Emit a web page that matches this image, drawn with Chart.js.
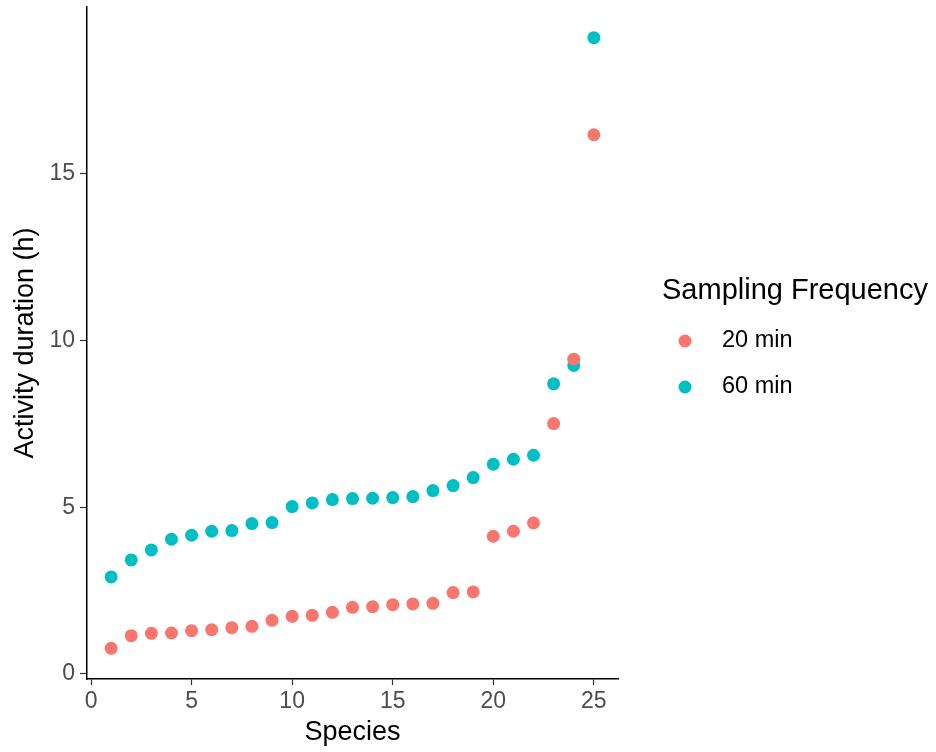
<!DOCTYPE html>
<html>
<head>
<meta charset="utf-8">
<script src="https://cdn.jsdelivr.net/npm/chart.js@4"></script>
<style>
  html, body { margin: 0; padding: 0; background: #fff; }
  #wrap { width: 936px; height: 752px; }
</style>
</head>
<body>
<div id="wrap"><canvas id="dotChart" width="936" height="752"></canvas></div>
<script>
// species rank on the x axis
const species = [1, 2, 3, 4, 5, 6, 7, 8, 9, 10, 11, 12, 13, 14, 15, 16, 17, 18, 19, 20, 21, 22, 23, 24, 25];

// activity duration (h) per sampling frequency
const min20 = [0.77, 1.15, 1.22, 1.23, 1.30, 1.33, 1.39, 1.43, 1.61, 1.73, 1.76, 1.85, 2.00, 2.02, 2.08, 2.10, 2.12, 2.44, 2.46, 4.13, 4.28, 4.53, 7.51, 9.44, 16.17];
const min60 = [2.91, 3.42, 3.72, 4.04, 4.16, 4.28, 4.30, 4.51, 4.54, 5.02, 5.13, 5.23, 5.26, 5.27, 5.29, 5.32, 5.50, 5.65, 5.89, 6.29, 6.44, 6.56, 8.70, 9.25, 19.08];

const seriesNames = ['20 min', '60 min'];
const seriesColors = ['#F8766D', '#00BFC4'];

const xTicks = [0, 5, 10, 15, 20, 25];
const yTicks = [0, 5, 10, 15];

const legendTitle = 'Sampling Frequency';

const FONT = '"Liberation Sans", Arial, sans-serif';

function toPoints(vals) {
  return species.map((s, i) => ({ x: s, y: vals[i] }));
}

// legend drawn to the right of the panel, ggplot style
const legendPlugin = {
  id: 'ggLegend',
  afterDraw(chart) {
    const ctx = chart.ctx;
    ctx.save();
    ctx.fillStyle = '#000';
    ctx.textBaseline = 'middle';
    ctx.textAlign = 'left';
    ctx.font = '29px ' + FONT;
    ctx.fillText(legendTitle, 662, 291);
    ctx.font = '23.5px ' + FONT;
    chart.data.datasets.forEach((ds, i) => {
      const y = 341 + i * 46;
      ctx.beginPath();
      ctx.arc(685, y, 6.5, 0, Math.PI * 2);
      ctx.fillStyle = ds.backgroundColor;
      ctx.fill();
      ctx.fillStyle = '#000';
      ctx.fillText(ds.label, 722, y);
    });
    ctx.restore();
  }
};

const ctx = document.getElementById('dotChart').getContext('2d');

const chart = new Chart(ctx, {
  type: 'scatter',
  data: {
    datasets: [
      {
        label: seriesNames[0],
        data: toPoints(min20),
        backgroundColor: seriesColors[0],
        borderColor: seriesColors[0],
        pointRadius: 6.5,
        pointBorderWidth: 0
      },
      {
        label: seriesNames[1],
        data: toPoints(min60),
        backgroundColor: seriesColors[1],
        borderColor: seriesColors[1],
        pointRadius: 6.5,
        pointBorderWidth: 0
      }
    ]
  },
  options: {
    responsive: false,
    animation: false,
    devicePixelRatio: 1,
    layout: {
      padding: { top: 7, right: 318, left: 0, bottom: 0 }
    },
    plugins: {
      legend: { display: false },
      tooltip: { enabled: false }
    },
    scales: {
      x: {
        type: 'linear',
        min: -0.2,
        max: 26.2,
        afterBuildTicks: axis => { axis.ticks = xTicks.map(v => ({ value: v })); },
        afterFit: axis => { axis.height = 73; axis.paddingLeft = 0; axis.paddingRight = 0; },
        grid: {
          drawOnChartArea: false,
          drawTicks: true,
          tickLength: 6,
          tickColor: '#333333',
          tickWidth: 1.2
        },
        border: { display: true, color: '#000', width: 1.5 },
        ticks: {
          color: '#4D4D4D',
          font: { family: FONT, size: 23 },
          padding: 3,
          maxRotation: 0
        },
        title: {
          display: true,
          text: 'Species',
          color: '#000',
          font: { family: FONT, size: 27 },
          padding: { top: 0, bottom: 3 }
        }
      },
      y: {
        type: 'linear',
        min: -0.15,
        max: 20.0,
        afterBuildTicks: axis => { axis.ticks = yTicks.map(v => ({ value: v })); },
        afterFit: axis => { axis.width = 87; axis.paddingTop = 0; axis.paddingBottom = 0; },
        grid: {
          drawOnChartArea: false,
          drawTicks: true,
          tickLength: 7,
          tickColor: '#333333',
          tickWidth: 1.2
        },
        border: { display: true, color: '#000', width: 1.5 },
        ticks: {
          color: '#4D4D4D',
          font: { family: FONT, size: 23 },
          padding: 5
        },
        title: {
          display: true,
          text: 'Activity duration (h)',
          color: '#000',
          font: { family: FONT, size: 27 },
          padding: { top: 9, bottom: 0 }
        }
      }
    }
  },
  plugins: [legendPlugin]
});
</script>
</body>
</html>
